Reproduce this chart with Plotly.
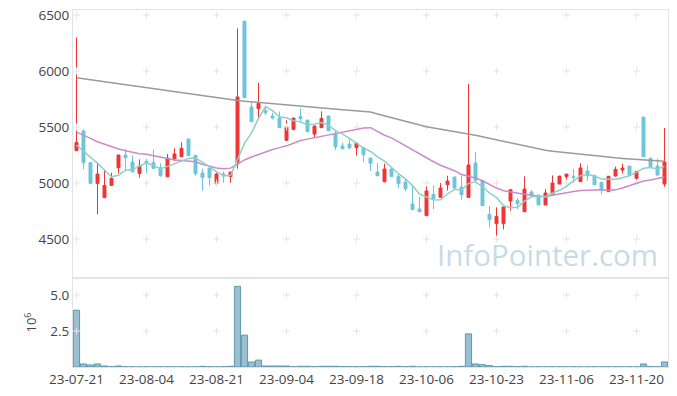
import pandas as pd
import plotly.graph_objects as go
from plotly.subplots import make_subplots

holidays = ["2023-08-15", "2023-09-28", "2023-09-29", "2023-10-02", "2023-10-03", "2023-10-09"]
days = [d for d in pd.bdate_range("2023-07-21", "2023-11-24") if d.strftime("%Y-%m-%d") not in holidays]
dates = [d.strftime("%y-%m-%d") for d in days]

opens = [5289, 5464, 5182, 4997, 4869, 4979, 5137, 5250, 5187, 5086,
         5193, 5184, 5137, 5056, 5217, 5235, 5393, 5247, 5089, 5134,
         4994, 5080, 5057, 5187, 6446, 5679, 5664, 5646, 5598, 5580,
         5381, 5479, 5592, 5562, 5437, 5494, 5598, 5437, 5330, 5348,
         5315, 5318, 5223, 5098, 5012, 5125, 5057, 5009, 4812, 4768,
         4708, 4899, 4872, 4985, 5054, 4964, 4872, 5179, 5024, 4720,
         4637, 4637, 4839, 4845, 4744, 4920, 4893, 4804, 4902, 4991,
         5057, 5057, 5012, 5107, 5068, 5006, 4923, 5063, 5116, 5152,
         5042, 5589, 5220, 5152, 4991]
highs = [6300, 5479, 5185, 5187, 5116, 5092, 5250, 5307, 5247, 5211,
         5217, 5300, 5176, 5259, 5310, 5363, 5393, 5247, 5128, 5134,
         5092, 5104, 5098, 6381, 6446, 5723, 5893, 5687, 5628, 5640,
         5560, 5580, 5667, 5562, 5509, 5640, 5604, 5467, 5363, 5390,
         5357, 5318, 5223, 5179, 5173, 5140, 5080, 5042, 4976, 4878,
         4982, 4979, 5000, 5065, 5054, 5065, 5884, 5277, 5024, 4795,
         4783, 4786, 4940, 4866, 5060, 4935, 4893, 4946, 5068, 5062,
         5080, 5125, 5176, 5158, 5068, 5006, 5060, 5146, 5173, 5152,
         5104, 5589, 5229, 5217, 5491]
lows = [5289, 5122, 4995, 4720, 4869, 4973, 5086, 5116, 5092, 5048,
        5086, 5125, 5056, 5056, 5196, 5235, 5244, 5065, 4932, 4976,
        4994, 5003, 5003, 5128, 5762, 5548, 5577, 5607, 5568, 5494,
        5381, 5470, 5548, 5458, 5408, 5494, 5467, 5295, 5298, 5301,
        5244, 5187, 5107, 5065, 5006, 5057, 4952, 4926, 4762, 4744,
        4708, 4768, 4872, 4932, 4955, 4851, 4872, 5012, 4798, 4604,
        4479, 4586, 4753, 4765, 4744, 4896, 4804, 4804, 4902, 4991,
        4997, 5000, 5012, 5021, 4985, 4899, 4923, 5057, 5086, 5071,
        5021, 5235, 5146, 5071, 4967]
closes = [5363, 5182, 4997, 5080, 4979, 5042, 5250, 5226, 5101, 5152,
          5176, 5131, 5065, 5223, 5259, 5310, 5244, 5083, 5048, 5048,
          5080, 5062, 5098, 5768, 5762, 5548, 5711, 5628, 5580, 5494,
          5500, 5580, 5574, 5458, 5509, 5577, 5467, 5324, 5307, 5315,
          5357, 5253, 5176, 5065, 5125, 5057, 4994, 4949, 4762, 4744,
          4929, 4863, 4955, 5018, 4955, 4896, 5161, 5024, 4798, 4673,
          4702, 4786, 4940, 4818, 4946, 4896, 4804, 4911, 5000, 5062,
          5080, 5051, 5134, 5066, 4985, 4938, 5060, 5122, 5134, 5071,
          5104, 5235, 5146, 5071, 5187]

ma5 = [5339, 5280, 5230, 5176, 5120, 5056, 5070, 5115, 5120, 5154,
       5181, 5157, 5125, 5149, 5171, 5198, 5220, 5224, 5189, 5147,
       5101, 5064, 5067, 5211, 5354, 5448, 5577, 5683, 5646, 5592,
       5583, 5556, 5546, 5521, 5524, 5540, 5517, 5467, 5437, 5398,
       5354, 5311, 5282, 5233, 5195, 5135, 5083, 5038, 4977, 4901,
       4876, 4849, 4851, 4902, 4944, 4937, 4997, 5011, 4967, 4910,
       4872, 4797, 4780, 4784, 4838, 4877, 4881, 4875, 4911, 4935,
       4971, 5021, 5065, 5079, 5063, 5035, 5037, 5034, 5048, 5065,
       5098, 5133, 5138, 5125, 5149]
ma20 = [5455, 5429, 5399, 5369, 5348, 5324, 5304, 5289, 5274, 5262,
        5256, 5244, 5229, 5214, 5205, 5202, 5199, 5190, 5168, 5148,
        5134, 5128, 5133, 5167, 5206, 5232, 5255, 5275, 5299, 5316,
        5332, 5355, 5380, 5392, 5404, 5418, 5429, 5441, 5454, 5467,
        5481, 5491, 5494, 5459, 5427, 5403, 5367, 5333, 5292, 5255,
        5226, 5190, 5159, 5137, 5110, 5076, 5060, 5045, 5020, 4988,
        4955, 4932, 4920, 4907, 4899, 4890, 4881, 4879, 4891, 4907,
        4914, 4924, 4933, 4935, 4937, 4939, 4934, 4939, 4955, 4975,
        4995, 5018, 5028, 5041, 5053]
ma120 = [5940, 5931, 5922, 5913, 5904, 5895, 5886, 5877, 5868, 5859,
         5850, 5841, 5832, 5823, 5814, 5805, 5796, 5787, 5778, 5769,
         5760, 5751, 5742, 5736, 5731, 5726, 5720, 5715, 5710, 5704,
         5699, 5693, 5688, 5682, 5677, 5671, 5666, 5660, 5655, 5649,
         5644, 5640, 5634, 5617, 5600, 5583, 5565, 5548, 5530, 5513,
         5502, 5492, 5482, 5471, 5461, 5451, 5440, 5427, 5413, 5399,
         5386, 5372, 5358, 5345, 5331, 5318, 5304, 5292, 5284, 5277,
         5270, 5262, 5255, 5248, 5241, 5235, 5230, 5225, 5220, 5215,
         5211, 5207, 5203, 5199, 5195]
volume_m = [3.94, 0.21, 0.14, 0.21, 0.07, 0.02, 0.07, 0.02, 0.01, 0.01,
            0.01, 0.01, 0.01, 0.01, 0.01, 0.01, 0.01, 0.01, 0.05, 0.02,
            0.01, 0.02, 0.05, 5.60, 2.21, 0.35, 0.48, 0.07, 0.07, 0.07,
            0.07, 0.02, 0.05, 0.05, 0.02, 0.05, 0.05, 0.05, 0.02, 0.02,
            0.02, 0.02, 0.05, 0.05, 0.02, 0.02, 0.05, 0.02, 0.05, 0.01,
            0.01, 0.01, 0.01, 0.01, 0.02, 0.05, 2.30, 0.21, 0.16, 0.09,
            0.02, 0.05, 0.05, 0.02, 0.05, 0.01, 0.01, 0.01, 0.01, 0.01,
            0.01, 0.01, 0.01, 0.01, 0.01, 0.01, 0.01, 0.01, 0.01, 0.01,
            0.01, 0.21, 0.02, 0.01, 0.35]

price_ticks = [4500, 5000, 5500, 6000, 6500]
vol_ticks = [2.5, 5.0]
vol_tick_text = ["2.5", "5.0"]
label_dates = dates[::10]

FONT = "Open Sans"
RED = "#f03434"
BLUE = "#6cc5dc"
GRIDC = "#e4e4e4"
LINEC = "#e3e3e3"

fig = make_subplots(rows=2, cols=1, shared_xaxes=True, vertical_spacing=0,
                    row_heights=[0.7507, 0.2493])

# faint grid crosses at tick intersections
cx, cy = [], []
for d in label_dates:
    for p in price_ticks:
        cx.append(d); cy.append(p)
fig.add_trace(go.Scatter(x=cx, y=cy, mode="markers", hoverinfo="skip",
                         marker=dict(symbol="cross-thin", size=5, line=dict(color=GRIDC, width=1)),
                         showlegend=False), row=1, col=1)
vx, vy = [], []
for d in label_dates:
    for v in vol_ticks:
        vx.append(d); vy.append(v)
fig.add_trace(go.Scatter(x=vx, y=vy, mode="markers", hoverinfo="skip",
                         marker=dict(symbol="cross-thin", size=5, line=dict(color=GRIDC, width=1)),
                         showlegend=False), row=2, col=1)

fig.add_annotation(text="InfoPointer.com", xref="paper", yref="paper", x=0.986, y=0.314,
                   xanchor="right", yanchor="middle", showarrow=False,
                   font=dict(family=FONT, size=29.5, color="#c7dbe5"))

fig.add_trace(go.Scatter(x=dates, y=ma120, mode="lines", line=dict(color="#9a9a9a", width=1.5),
                         showlegend=False), row=1, col=1)
fig.add_trace(go.Scatter(x=dates, y=ma20, mode="lines", line=dict(color="#cc8acb", width=1.5),
                         showlegend=False), row=1, col=1)
fig.add_trace(go.Scatter(x=dates, y=ma5, mode="lines", line=dict(color="#8dd0c6", width=1.5),
                         showlegend=False), row=1, col=1)

fig.add_trace(go.Candlestick(x=dates, open=opens, high=highs, low=lows, close=closes,
                             increasing=dict(line=dict(color=RED, width=1), fillcolor=RED),
                             decreasing=dict(line=dict(color=BLUE, width=1), fillcolor=BLUE),
                             whiskerwidth=0, showlegend=False), row=1, col=1)

fig.add_trace(go.Bar(x=dates, y=volume_m, marker=dict(color="rgba(120,170,195,0.75)",
                                                      line=dict(color="#5f97ae", width=1)),
                     showlegend=False), row=2, col=1)

axis_common = dict(showline=True, linecolor=LINEC, linewidth=1, mirror=True, showgrid=False,
                   zeroline=False, ticks="", automargin=False,
                   tickfont=dict(family=FONT, size=13.5, color="#444"))

fig.update_xaxes(type="category", categoryorder="array", categoryarray=dates,
                 range=[-0.5, len(dates) - 0.5], tickmode="array",
                 tickvals=label_dates, ticktext=label_dates, tickangle=0,
                 rangeslider=dict(visible=False), **axis_common)
fig.update_xaxes(showticklabels=False, row=1, col=1)
fig.update_yaxes(range=[4152, 6545], tickmode="array", tickvals=price_ticks,
                 row=1, col=1, **axis_common)
fig.update_yaxes(range=[0, 6.18], tickmode="array", tickvals=vol_ticks, ticktext=vol_tick_text,
                 title=dict(text="10<sup>6</sup>", font=dict(family=FONT, size=13, color="#444"), standoff=10),
                 row=2, col=1, **axis_common)

fig.update_layout(width=677, height=396, margin=dict(l=73, r=9, t=10, b=29, autoexpand=False),
                  paper_bgcolor="white", plot_bgcolor="white", boxgap=0.4, bargap=0.12,
                  font=dict(family=FONT, size=13, color="#444"), hovermode=False)

fig.write_html("out.html", config={"displayModeBar": False, "staticPlot": True},
               post_script="document.body.style.margin='0px';document.body.style.overflow='hidden';")
